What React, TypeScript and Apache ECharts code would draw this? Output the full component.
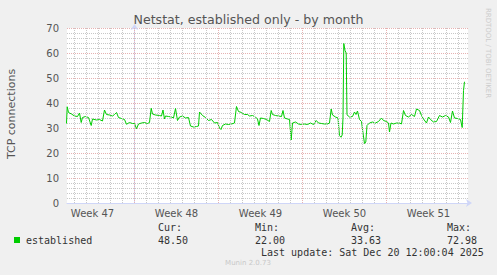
import React, { useEffect, useRef } from "react";
import * as echarts from "echarts";

// Days relative to Monday 00:00 of week 48
const days = [
  -5.667, -5.608, -5.5, -5.25, -5.0, -4.75, -4.583, -4.442, -4.333, -4.083, -3.833, -3.608, -3.5, -3.167,
  -2.917, -2.667, -2.5, -2.333, -2.083, -1.833, -1.667, -1.5, -1.333, -1.083, -0.833, -0.667, -0.417, -0.167,
  0, 0.167, 0.333, 0.583, 0.833, 1.083, 1.25, 1.392, 1.5, 1.75, 2.083, 2.25, 2.375, 2.5, 2.583, 2.833,
  3.083, 3.25, 3.417, 3.583, 3.75, 4.0, 4.25, 4.5, 4.667, 4.917, 5.167, 5.333, 5.417, 5.667, 5.917, 6.167,
  6.417, 6.667, 6.917, 7.083, 7.208, 7.333, 7.583, 7.833, 8.083, 8.333, 8.5, 8.667, 8.917, 9.167, 9.417,
  9.583, 9.833, 10.083, 10.25, 10.375, 10.5, 10.75, 11.0, 11.25, 11.392, 11.5, 11.75, 12.0, 12.25, 12.375,
  12.5, 12.75, 12.917, 13.058, 13.167, 13.417, 13.667, 13.917, 14.167, 14.417, 14.667, 14.917, 15.142,
  15.333, 15.583, 15.833, 16.083, 16.25, 16.392, 16.5, 16.75, 16.958, 17.083, 17.208, 17.308, 17.375,
  17.442, 17.542, 17.642, 17.708, 17.917, 18.167, 18.333, 18.458, 18.583, 18.75, 18.917, 19.042, 19.167,
  19.275, 19.375, 19.583, 19.833, 20.083, 20.333, 20.583, 20.75, 21.0, 21.167, 21.25, 21.375, 21.583,
  21.833, 22.083, 22.25, 22.417, 22.583, 22.833, 23.083, 23.333, 23.5, 23.75, 23.917, 24.083, 24.333,
  24.5, 24.667, 24.917, 25.167, 25.417, 25.667, 25.917, 26.167, 26.333, 26.5, 26.667, 26.917, 27.167,
  27.308, 27.417, 27.5,
];

const connections = [
  31.8, 38.5, 36.2, 35.6, 34.8, 34.6, 36.0, 32.2, 34.2, 34.6, 34.2, 31.0, 33.6, 33.2,
  33.4, 32.8, 37.2, 35.4, 35.2, 34.8, 35.4, 36.2, 34.2, 33.8, 33.4, 31.5, 32.2, 31.8,
  31.8, 29.7, 31.6, 32.0, 32.2, 31.8, 32.2, 37.9, 35.6, 35.2, 35.0, 34.8, 37.2, 33.6, 34.8, 34.6,
  34.4, 34.0, 37.8, 33.0, 34.4, 34.8, 34.0, 34.2, 30.8, 30.4, 30.6, 30.8, 36.4, 35.0, 34.2, 33.0,
  33.4, 32.0, 32.2, 30.0, 29.4, 31.0, 31.6, 31.4, 31.6, 32.0, 38.6, 36.6, 36.2, 35.4, 35.4,
  34.8, 35.0, 34.4, 33.6, 31.0, 34.0, 33.8, 33.4, 32.6, 37.0, 35.4, 35.0, 34.8, 34.6, 37.0,
  34.0, 33.6, 33.4, 25.2, 32.0, 32.4, 31.6, 31.4, 31.6, 31.4, 32.0, 31.4, 33.0,
  32.0, 31.8, 31.6, 31.6, 32.0, 37.6, 35.2, 34.4, 34.0, 27.0, 26.3, 27.2, 34.0,
  63.8, 61.0, 60.0, 35.3, 34.4, 34.6, 36.4, 35.4, 36.8, 33.4, 32.6, 28.0, 23.8,
  24.4, 31.0, 32.0, 32.4, 32.0, 32.6, 34.0, 33.0, 32.6, 32.0, 28.4, 32.0, 31.6,
  32.0, 32.0, 31.6, 37.0, 35.0, 34.4, 35.4, 34.6, 37.6, 37.0, 35.0, 33.6, 32.0,
  34.4, 33.4, 32.4, 32.6, 35.0, 34.4, 35.0, 34.4, 32.2, 36.8, 34.0, 33.8, 33.4,
  30.2, 45.0, 48.5,
];

const weekCenters = [-3.5, 3.5, 10.5, 17.5, 24.5];
const weekLabels = ["Week 47", "Week 48", "Week 49", "Week 50", "Week 51"];
const dayGrid = [-5, -4, -3, -2, -1, 1, 2, 3, 4, 5, 6, 8, 9, 10, 11, 12, 13, 15, 16, 17, 18, 19, 20, 22, 23, 24, 25, 26, 27];
const weekGrid = [0, 7, 14, 21];

const title = "Netstat, established only - by month";
const yAxisTitle = "TCP connections";
const seriesName = "established";
const statHeads = ["Cur:", "Min:", "Avg:", "Max:"];
const statValues = ["48.50", "22.00", "33.63", "72.98"];
const lastUpdate = "Last update: Sat Dec 20 12:00:04 2025";
const credit = "Munin 2.0.73";
const watermark = "RRDTOOL / TOBI OETIKER";

const GREEN = "#00CC00";
const FONT_COLOR = "#555555";
const MINOR = "#c8c8c8";
const MAJOR = "#e6b2b2";
const SANS = "'DejaVu Sans', sans-serif";
const MONO = "'DejaVu Sans Mono', monospace";

function txt(x: number, y: number, text: string, font: string, fill: string, align = "left", extra: any = {}) {
  return {
    type: "text",
    x,
    y,
    silent: true,
    ...extra,
    style: {
      text,
      font,
      fill,
      textAlign: align,
      textVerticalAlign: "middle",
      align,
      verticalAlign: "middle",
    },
  };
}

function gridSeries(values: number[], color: string) {
  return {
    type: "line",
    z: 1,
    silent: true,
    data: [[days[0], connections[0]]],
    showSymbol: false,
    lineStyle: { opacity: 0 },
    markLine: {
      silent: true,
      symbol: ["none", "none"],
      label: { show: false },
      emphasis: { disabled: true },
      animation: false,
      lineStyle: { color, type: [1, 1], width: 1, opacity: 1 },
      data: values.map((d) => ({ xAxis: d })),
    },
  };
}

export default function App() {
  const ref = useRef<HTMLDivElement>(null);
  useEffect(() => {
    if (!ref.current) return;
    const chart = echarts.init(ref.current, undefined, { renderer: "svg" });
    const statX = [158, 255, 351, 447];
    const graphics: any[] = [
      txt(248.5, 19, title, `12.6px ${SANS}`, FONT_COLOR, "center"),
      txt(11, 114, yAxisTitle, `11px ${SANS}`, FONT_COLOR, "center", { rotation: Math.PI / 2 }),
      txt(488, 53, watermark, `7px ${SANS}`, "#cccccc", "center", { rotation: -Math.PI / 2 }),
      { type: "rect", silent: true, shape: { x: 14, y: 237, width: 6, height: 6 }, style: { fill: GREEN } },
      txt(26, 240, seriesName, `10px ${MONO}`, "#333333"),
      txt(261, 252, lastUpdate, `10px ${MONO}`, "#333333"),
      txt(248, 263, credit, `7px ${SANS}`, "#c8c8c8", "center"),
    ];
    statHeads.forEach((h, i) => {
      graphics.push(txt(statX[i], 227.5, h, `10px ${MONO}`, "#333333"));
      graphics.push(txt(statX[i], 240, statValues[i], `10px ${MONO}`, "#333333"));
    });

    chart.setOption({
      animation: false,
      backgroundColor: "#F0F0F0",
      textStyle: { fontFamily: SANS },
      grid: {
        left: 67,
        right: 29,
        top: 28,
        bottom: 72,
        show: true,
        backgroundColor: "#FFFFFF",
        borderWidth: 0,
        containLabel: false,
      },
      xAxis: {
        type: "value",
        min: -5.625,
        max: 27.792,
        axisLine: {
          show: true,
          lineStyle: { color: "#CFD6F8", width: 1 },
          symbol: ["none", "arrow"],
          symbolSize: [6, 6],
          symbolOffset: [0, 4],
        },
        axisTick: { show: false },
        splitLine: { show: false },
        axisLabel: {
          customValues: weekCenters,
          formatter: (v: number) => {
            const i = weekCenters.findIndex((c) => Math.abs(c - v) < 0.01);
            return i >= 0 ? weekLabels[i] : "";
          },
          color: FONT_COLOR,
          fontSize: 10,
          fontFamily: SANS,
          margin: 5,
          showMinLabel: true,
          showMaxLabel: true,
          hideOverlap: false,
        },
      },
      yAxis: {
        type: "value",
        min: 0,
        max: 70,
        interval: 10,
        axisLine: {
          show: true,
          lineStyle: { color: "#CFD6F8", width: 1 },
          symbol: ["none", "arrow"],
          symbolSize: [6, 6],
          symbolOffset: [0, 4],
        },
        axisTick: { show: false },
        axisLabel: { color: FONT_COLOR, fontSize: 10, fontFamily: SANS, margin: 8 },
        splitLine: { show: true, lineStyle: { color: MAJOR, type: [1, 1], width: 1 } },
        minorTick: { show: false, splitNumber: 5 },
        minorSplitLine: { show: true, lineStyle: { color: MINOR, type: [1, 1], width: 1 } },
      },
      series: [
        gridSeries(dayGrid, MINOR),
        gridSeries(weekGrid, MAJOR),
        {
          name: seriesName,
          type: "line",
          z: 3,
          data: days.map((d, i) => [d, connections[i]]),
          showSymbol: false,
          lineStyle: { color: GREEN, width: 1 },
          itemStyle: { color: GREEN },
          silent: true,
        },
      ],
      graphic: graphics,
    });
    return () => chart.dispose();
  }, []);
  return (
    <div
      ref={ref}
      style={{ position: "absolute", left: 0, top: 0, width: 497, height: 275, background: "#F0F0F0" }}
    />
  );
}
